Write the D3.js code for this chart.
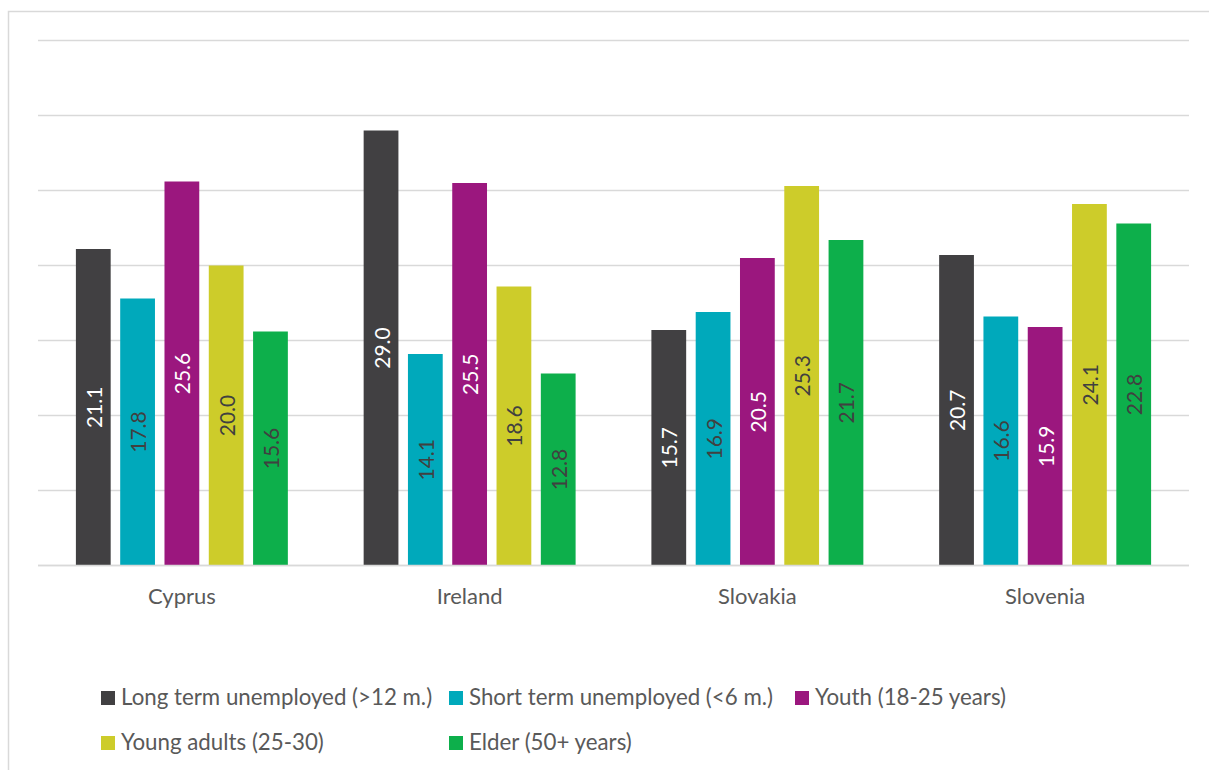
<!DOCTYPE html>
<html>
<head>
<meta charset="utf-8">
<script src="https://cdn.jsdelivr.net/npm/d3@7"></script>
<style>
  html, body { margin: 0; padding: 0; background: #ffffff; }
  svg { display: block; font-family: Lato, "Open Sans", sans-serif; }
</style>
</head>
<body>
<svg id="chart" width="1209" height="770"></svg>
<script>
// Countries on the x axis
const categories = ["Cyprus", "Ireland", "Slovakia", "Slovenia"];

// Series names (legend order)
const seriesNames = [
  "Long term unemployed (>12 m.)",
  "Short term unemployed (<6 m.)",
  "Youth (18-25 years)",
  "Young adults (25-30)",
  "Elder (50+ years)"
];

// Values per series, one per country
const longTerm    = [21.1, 29.0, 15.7, 20.7];
const shortTerm   = [17.8, 14.1, 16.9, 16.6];
const youth       = [25.6, 25.5, 20.5, 15.9];
const youngAdults = [20.0, 18.6, 25.3, 24.1];
const elder       = [15.6, 12.8, 21.7, 22.8];

// Gridline values
const gridTicks = [0, 5, 10, 15, 20, 25, 30, 35];

const seriesValues = [longTerm, shortTerm, youth, youngAdults, elder];
const colors = ["#414042", "#00A9BB", "#9B177E", "#CDCC2A", "#0DAF4B"];
const labelColors = ["#ffffff", "#404040", "#ffffff", "#404040", "#404040"];

const svg = d3.select("#chart");

// Outer chart frame
svg.append("rect")
  .attr("x", 8.5).attr("y", 11.5)
  .attr("width", 1400).attr("height", 1000)
  .attr("fill", "none").attr("stroke", "#d9d9d9").attr("stroke-width", 1.5);

const plot = { left: 38, right: 1189, top: 40.5, bottom: 565.5 };

const x0 = d3.scaleBand().domain(categories).range([plot.left, plot.right]).padding(0);
const groupInset = 37.9;
const x1 = d3.scaleBand().domain(d3.range(seriesNames.length))
  .range([groupInset, x0.bandwidth() - groupInset])
  .paddingInner(0.215).paddingOuter(0);
const y = d3.scaleLinear().domain([0, 35]).range([plot.bottom, plot.top]);

// Horizontal gridlines
svg.append("g").selectAll("line")
  .data(gridTicks)
  .join("line")
  .attr("x1", plot.left).attr("x2", plot.right)
  .attr("y1", d => y(d)).attr("y2", d => y(d))
  .attr("stroke", "#d9d9d9").attr("stroke-width", 1.5);

// Bars
const rows = [];
categories.forEach((c, ci) => {
  seriesValues.forEach((vals, si) => rows.push({ c, si, v: vals[ci] }));
});

const groups = svg.append("g");
groups.selectAll("rect")
  .data(rows)
  .join("rect")
  .attr("x", d => x0(d.c) + x1(d.si))
  .attr("width", x1.bandwidth())
  .attr("y", d => y(d.v))
  .attr("height", d => y(0) - y(d.v))
  .attr("fill", d => colors[d.si]);

// Value labels, rotated inside each bar
groups.selectAll("text")
  .data(rows)
  .join("text")
  .attr("transform", d => {
    const cx = x0(d.c) + x1(d.si) + x1.bandwidth() / 2;
    const cy = (y(d.v) + y(0)) / 2;
    return `translate(${cx},${cy}) rotate(-90)`;
  })
  .attr("text-anchor", "middle")
  .attr("dominant-baseline", "central")
  .attr("font-size", 21)
  .attr("fill", d => labelColors[d.si])
  .text(d => d.v.toFixed(1));

// Baseline axis line on top of gridline
svg.append("line")
  .attr("x1", plot.left).attr("x2", plot.right)
  .attr("y1", y(0)).attr("y2", y(0))
  .attr("stroke", "#d9d9d9").attr("stroke-width", 1.5);

// Category labels
const xAxis = d3.axisBottom(x0).tickSize(0).tickPadding(0);
const ax = svg.append("g").attr("transform", `translate(0,${y(0)})`).call(xAxis);
ax.select(".domain").remove();
ax.selectAll("text")
  .attr("font-family", "Lato, 'Open Sans', sans-serif")
  .attr("font-size", 22)
  .attr("fill", "#595959")
  .attr("dy", null)
  .attr("y", 38);

// Legend
const legendPos = [[101, 705], [449, 705], [795, 705], [101, 750], [449, 750]];
const legend = svg.append("g").selectAll("g")
  .data(seriesNames)
  .join("g")
  .attr("transform", (d, i) => `translate(${legendPos[i][0]},${legendPos[i][1]})`);
legend.append("rect")
  .attr("x", 0).attr("y", -14)
  .attr("width", 14).attr("height", 14)
  .attr("fill", (d, i) => colors[i]);
legend.append("text")
  .attr("x", 20).attr("y", 0)
  .attr("font-size", 22.3)
  .attr("fill", "#595959")
  .text(d => d);
</script>
</body>
</html>
